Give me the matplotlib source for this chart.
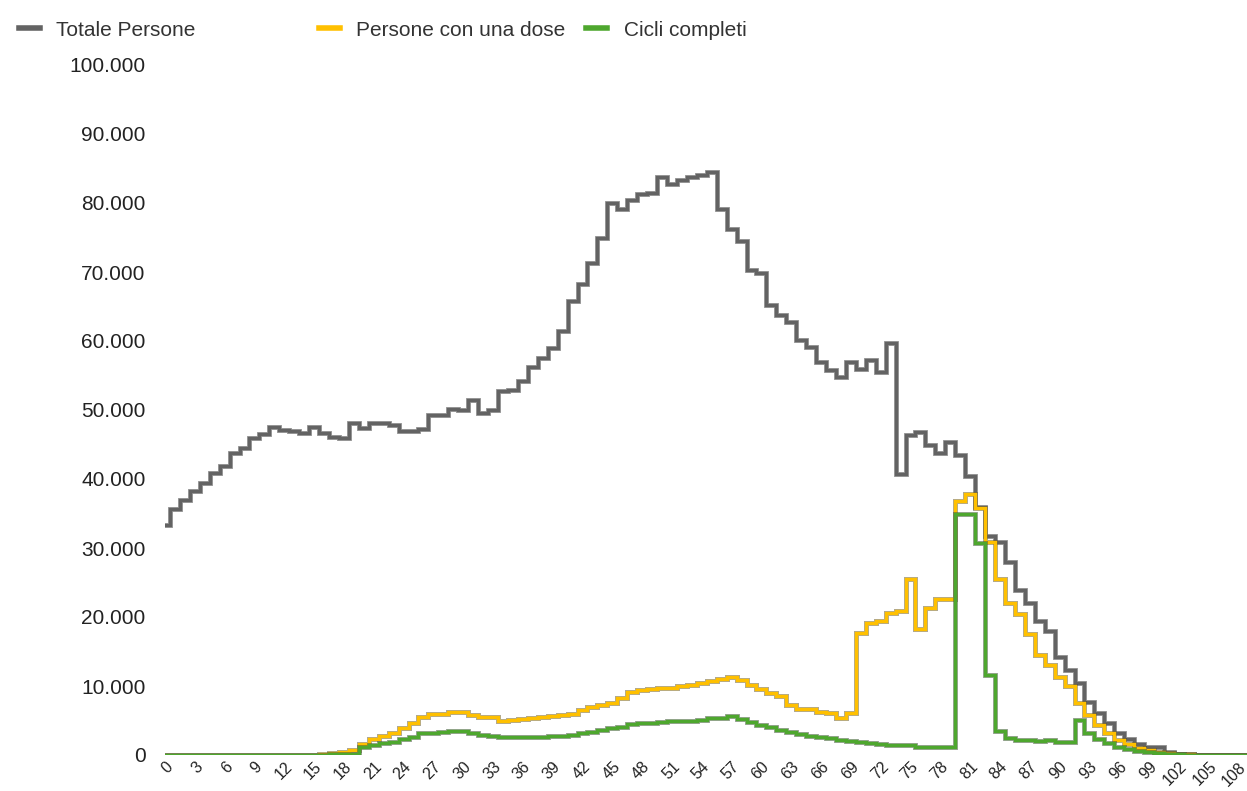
import numpy as np
import matplotlib
matplotlib.use("Agg")
import matplotlib.pyplot as plt
import matplotlib.patheffects as pe
from matplotlib.lines import Line2D
from matplotlib.ticker import FuncFormatter

ages = list(range(0, 111))

totale = [33300, 35600, 36950, 38250, 39450, 40800, 41900, 43800, 44530, 45900,
          46500, 47500, 47100, 47000, 46700, 47500, 46600, 46100, 46000, 48150,
          47350, 48150, 48150, 47800, 46950, 46950, 47300, 49300, 49300, 50200,
          50000, 51500, 49500, 50000, 52800, 52900, 54200, 56270, 57480, 59020,
          61500, 65790, 68250, 71340, 75000, 79940, 79200, 80400, 81300, 81500,
          83700, 82740, 83300, 83800, 84000, 84500, 79200, 76170, 74500, 70300,
          69800, 65200, 63800, 62800, 60100, 59200, 57000, 55800, 54800, 56900,
          55900, 57200, 55500, 59700, 40700, 46400, 46800, 44900, 43800, 45300,
          43500, 40400, 36000, 31700, 30800, 28000, 23900, 22000, 19400, 18000,
          14150, 12300, 10400, 7730, 6040, 4590, 3140, 2270, 1540, 1110,
          1100, 480, 200, 100, 50, 20, 10, 5, 0, 0, 0]

una_dose = [0, 0, 0, 0, 0, 0, 0, 0, 0, 0,
            0, 0, 0, 0, 0, 0, 200, 350, 500, 725,
            1600, 2300, 2750, 3250, 3850, 4700, 5450, 5900, 5900, 6200,
            6200, 5750, 5550, 5550, 5000, 5050, 5200, 5300, 5450, 5650,
            5750, 5950, 6500, 7000, 7250, 7600, 8200, 9150, 9400, 9500,
            9700, 9700, 10000, 10200, 10400, 10700, 11000, 11300, 10800, 10200,
            9500, 9000, 8550, 7250, 6620, 6620, 6280, 6040, 5310, 6040,
            17630, 19200, 19400, 20600, 20900, 25450, 18200, 21250, 22560, 22560,
            36800, 37770, 35750, 30900, 25500, 21980, 20400, 17600, 14490, 13040,
            11300, 10000, 7500, 5800, 4350, 3140, 2170, 1590, 970, 725,
            480, 330, 150, 80, 40, 20, 10, 5, 0, 0, 0]

cicli = [0, 0, 0, 0, 0, 0, 0, 0, 0, 0,
         0, 0, 0, 0, 0, 0, 0, 100, 150, 150,
         1100, 1450, 1700, 1930, 2270, 2650, 3140, 3240, 3330, 3480,
         3530, 3140, 2900, 2800, 2600, 2600, 2650, 2650, 2650, 2700,
         2800, 2900, 3140, 3330, 3620, 3860, 4100, 4440, 4590, 4700,
         4800, 4900, 5000, 5000, 5100, 5300, 5400, 5600, 5200, 4800,
         4400, 4000, 3600, 3300, 3000, 2800, 2600, 2400, 2200, 2000,
         1850, 1700, 1600, 1500, 1450, 1450, 1200, 1100, 1150, 1200,
         35000, 35000, 30760, 11600, 3520, 2420, 2170, 2170, 2100, 2170,
         1930, 1930, 5070, 3140, 2270, 1690, 1210, 820, 630, 450,
         300, 200, 100, 50, 30, 20, 10, 5, 0, 0, 0]

series_labels = ["Totale Persone", "Persone con una dose", "Cicli completi"]
colors = ["#636363", "#FFC000", "#4EA72E"]
xtick_vals = list(range(0, 109, 3))
ytick_vals = list(range(0, 100001, 10000))

plt.rcParams['font.family'] = ['Liberation Sans', 'DejaVu Sans']

W, H = 1247, 791
fig = plt.figure(figsize=(W / 100, H / 100), dpi=100)
ax = fig.add_axes([165 / W, (H - 755) / H, (W - 165) / W, 690 / H])

shadow = [pe.withStroke(linewidth=3.6, foreground="#3a3a3a", alpha=0.45)]
for vals, col in zip([totale, una_dose, cicli], colors):
    ax.step(ages, vals, where="mid", color=col, lw=2.5, solid_joinstyle="miter",
            path_effects=shadow, zorder=3)

ax.set_xlim(0, 108.85)
ax.set_ylim(0, 100000)
for s in ax.spines.values():
    s.set_visible(False)

ax.set_yticks(ytick_vals)
ax.yaxis.set_major_formatter(FuncFormatter(lambda v, p: f"{int(v):,}".replace(",", ".")))
ax.tick_params(axis="y", length=0, pad=14, labelsize=15, labelcolor="#222222")

ax.set_xticks(xtick_vals)
ax.set_xticklabels([str(v) for v in xtick_vals], rotation=45, ha="right",
                   va="top", rotation_mode="anchor")
ax.tick_params(axis="x", length=0, pad=3, labelsize=11.5, labelcolor="#222222")

h = [Line2D([], [], color=c, lw=4) for c in colors]
leg1 = fig.legend([h[0]], [series_labels[0]], loc="center left",
                  bbox_to_anchor=(0 / W, 1 - 30 / H), frameon=False,
                  fontsize=15, handlelength=1.0, handletextpad=0.8,
                  labelcolor="#333333")
leg2 = fig.legend(h[1:], series_labels[1:], loc="center left",
                  bbox_to_anchor=(300 / W, 1 - 30 / H), frameon=False,
                  fontsize=15, handlelength=1.0, handletextpad=0.8,
                  columnspacing=1.0, ncol=2, labelcolor="#333333")

fig.savefig("out.png", dpi=100)
